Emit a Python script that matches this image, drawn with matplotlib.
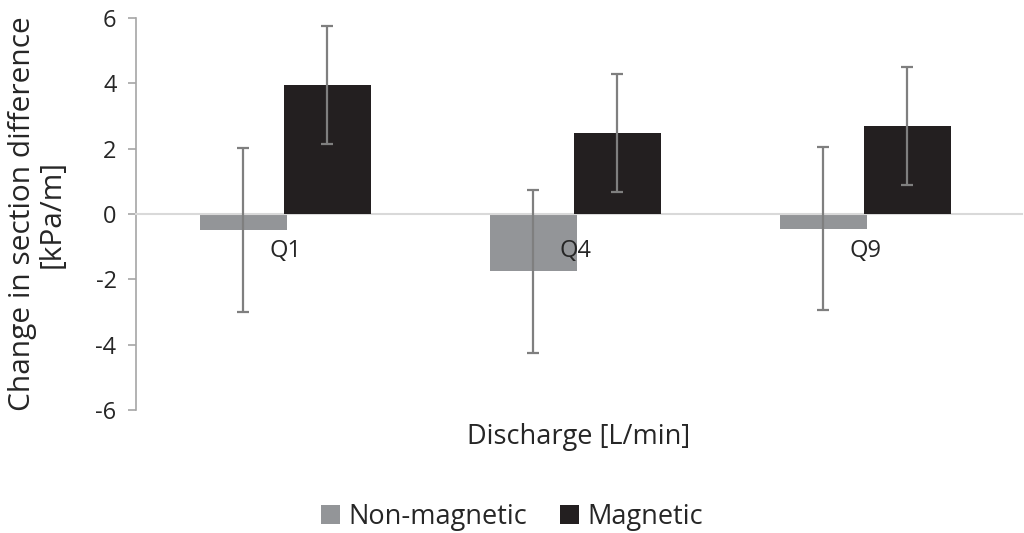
import numpy as np
import matplotlib
matplotlib.use("Agg")
import matplotlib.pyplot as plt

plt.rcParams['font.family'] = ['Open Sans', 'DejaVu Sans']
plt.rcParams['axes.unicode_minus'] = False

# Data
categories = ["Q1", "Q4", "Q9"]
non_magnetic = [-0.49, -1.75, -0.45]
non_magnetic_err = [2.51, 2.5, 2.5]
magnetic = [3.95, 2.48, 2.7]
magnetic_err = [1.8, 1.8, 1.8]

text_color = "#262626"
x = np.arange(len(categories))
width = 0.30

fig = plt.figure(figsize=(10.24, 5.33), dpi=100)
ax = fig.add_axes([0.1328, 0.2308, 0.8652, 0.7354])

ax.bar(x - 0.145, non_magnetic, width, color="#939598", label="Non-magnetic", zorder=2)
ax.bar(x + 0.145, magnetic, width, color="#231f20", label="Magnetic", zorder=3)
ax.errorbar(x - 0.145, non_magnetic, yerr=non_magnetic_err, fmt="none",
            ecolor="#7f7f7f", elinewidth=1.6, capsize=4.5, capthick=1.6, zorder=4)
ax.errorbar(x + 0.145, magnetic, yerr=magnetic_err, fmt="none",
            ecolor="#7f7f7f", elinewidth=1.6, capsize=4.5, capthick=1.6, zorder=4)

ax.set_ylim(-6, 6)
ax.set_yticks(np.arange(-6, 7, 2))
ax.set_xlim(-0.515, 2.54)

# category axis sits on the zero line
ax.spines['bottom'].set_position(('data', 0))
ax.spines['bottom'].set_color("#d9d9d9")
ax.spines['bottom'].set_linewidth(1.5)
ax.spines['bottom'].set_zorder(2.5)
ax.spines['top'].set_visible(False)
ax.spines['right'].set_visible(False)
ax.spines['left'].set_color("#a6a6a6")
ax.spines['left'].set_linewidth(1.2)
ax.xaxis.set_zorder(5)

ax.set_xticks(x)
ax.set_xticklabels(categories)
ax.tick_params(axis='x', length=0, pad=18, labelsize=17, labelcolor=text_color)
ax.tick_params(axis='y', length=6, width=1.2, color="#a6a6a6", pad=8,
               labelsize=17, labelcolor=text_color)

ax.set_ylabel("Change in section difference\n[kPa/m]", fontsize=21.5, color=text_color,
              linespacing=1.05)
ax.yaxis.set_label_coords(-0.078, 0.5)
ax.set_xlabel("Discharge [L/min]", fontsize=19.5, color=text_color)
ax.xaxis.set_label_coords(0.5, -0.069)
ax.xaxis.label.set_va('center')

fig.legend(loc="center", bbox_to_anchor=(0.5, 0.03), ncol=2, frameon=False,
           fontsize=19.5, handlelength=0.7, handleheight=0.7, handletextpad=0.3,
           columnspacing=1.2, labelcolor=text_color)

fig.savefig("out.png", dpi=100)
